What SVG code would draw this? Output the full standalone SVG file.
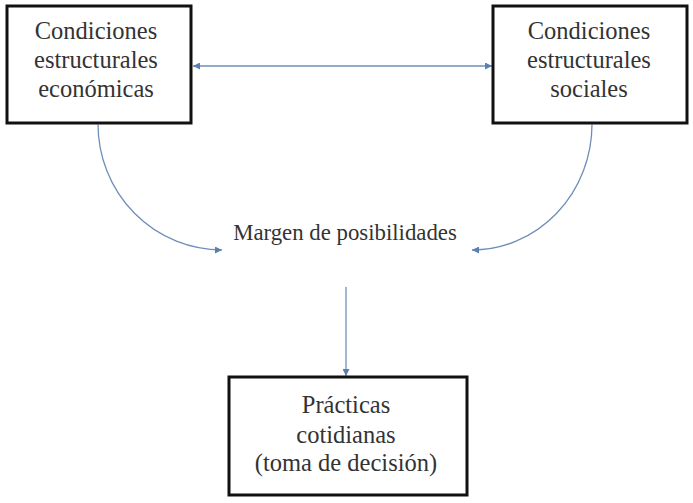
<svg xmlns="http://www.w3.org/2000/svg" width="693" height="503" viewBox="0 0 693 503">
<style>
.box{fill:#fff;stroke:#111;stroke-width:3}
.t{font-family:'Liberation Serif','Times New Roman',serif;font-size:24.5px;fill:#333;text-anchor:middle}
.lbl{font-family:'Liberation Serif','Times New Roman',serif;font-size:22.8px;fill:#333;text-anchor:middle}
.c{fill:none;stroke:#6f8fb8;stroke-width:1.3}
</style>
<defs>
<marker id="ah" viewBox="0 0 10 10" refX="10" refY="5" markerWidth="8" markerHeight="7" markerUnits="userSpaceOnUse" orient="auto-start-reverse">
<path d="M0,0 L10,5 L0,10 z" fill="#5b7fae"/>
</marker>
</defs>
<rect width="693" height="503" fill="#fff"/>
<g id="connectors">
<line class="c" x1="193" y1="66" x2="492" y2="66" marker-start="url(#ah)" marker-end="url(#ah)"/>
<path class="c" d="M98,124.5 A124,126 0 0 0 222,250" marker-end="url(#ah)"/>
<path class="c" d="M592,124.5 A120,126 0 0 1 472,250" marker-end="url(#ah)"/>
<line class="c" x1="346" y1="287" x2="346" y2="376" marker-end="url(#ah)"/>
</g>
<g id="economicas">
<rect class="box" x="7" y="6" width="184" height="117"/>
<text class="t" x="96" y="39">Condiciones</text>
<text class="t" x="96" y="68">estructurales</text>
<text class="t" x="96" y="97">económicas</text>
</g>
<g id="sociales">
<rect class="box" x="493" y="6" width="194" height="117"/>
<text class="t" x="589" y="39">Condiciones</text>
<text class="t" x="589" y="68">estructurales</text>
<text class="t" x="589" y="97">sociales</text>
</g>
<g id="margen">
<text class="lbl" x="345" y="240">Margen de posibilidades</text>
</g>
<g id="practicas">
<rect class="box" x="229" y="377" width="238" height="118"/>
<text class="t" x="346" y="413">Prácticas</text>
<text class="t" x="346" y="443">cotidianas</text>
<text class="t" x="346" y="471">(toma de decisión)</text>
</g>
</svg>
